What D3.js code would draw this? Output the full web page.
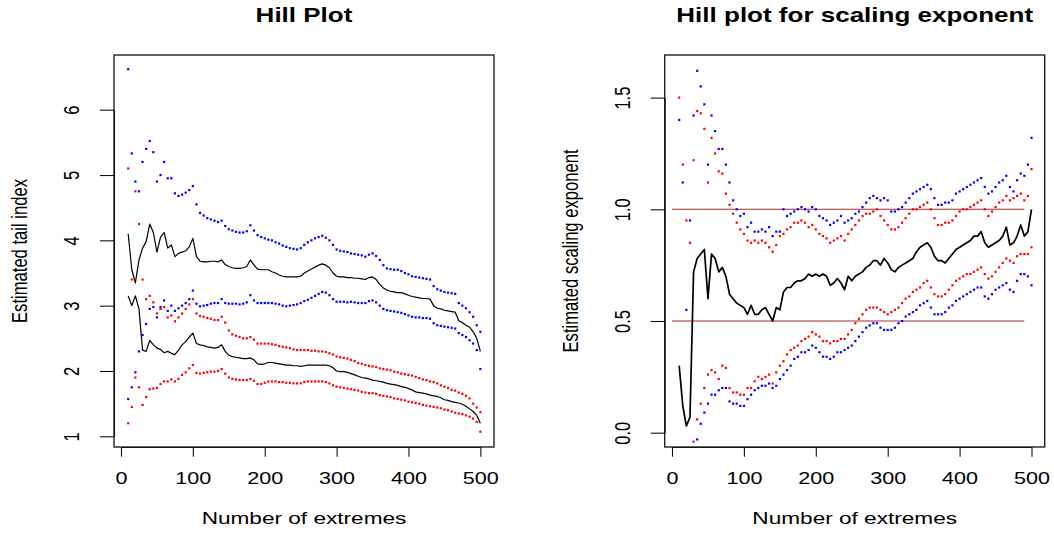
<!DOCTYPE html>
<html><head><meta charset="utf-8">
<script src="https://cdn.jsdelivr.net/npm/d3@7"></script>
<style>
body{margin:0;background:#fff}
svg{display:block}
text{font-family:"Liberation Sans",Arial,Helvetica,sans-serif;fill:#000}
</style>
</head><body>
<svg id="c" width="1054" height="534"></svg>
<script>
// Number of extremes (k) at which values were read
const extremes = d3.range(10, 501, 5);
const xTicks = [0, 100, 200, 300, 400, 500];
const yTicksHill = [1, 2, 3, 4, 5, 6];
const yTicksScale = [0, 0.5, 1.0, 1.5];
const yTickLabelsScale = ["0.0", "0.5", "1.0", "1.5"];
const refLevels = [1.0, 0.5];
const refSpan = [0, 490];

// ---- Left panel: Hill plot ----
const hillBlueUpper = [
6.62,5.33,4.9,4.75,5.2,5.4,5.52,5.35,4.9,5.0,
5.2,4.95,4.95,4.72,4.68,4.7,4.73,4.77,4.83,4.55,
4.42,4.38,4.34,4.32,4.3,4.28,4.3,4.22,4.17,4.15,
4.13,4.12,4.12,4.14,4.23,4.15,4.08,4.05,4.03,4.01,
4.0,3.97,3.95,3.92,3.9,3.88,3.87,3.86,3.88,3.93,
3.97,4.0,4.03,4.05,4.07,4.04,4.0,3.93,3.86,3.84,
3.83,3.82,3.8,3.79,3.78,3.77,3.75,3.78,3.8,3.76,
3.7,3.62,3.57,3.56,3.55,3.55,3.53,3.5,3.48,3.45,
3.44,3.43,3.42,3.41,3.4,3.3,3.25,3.23,3.21,3.2,
3.19,3.18,3.04,3.0,2.96,2.9,2.83,2.7,2.6];
const hillBlackUpper = [
4.1,3.55,3.35,3.7,3.88,3.98,4.25,4.12,3.82,4.05,
4.12,3.88,3.93,3.75,3.8,3.82,3.84,3.9,4.03,3.75,
3.68,3.67,3.67,3.68,3.68,3.67,3.7,3.63,3.6,3.58,
3.57,3.57,3.58,3.6,3.7,3.62,3.56,3.55,3.55,3.55,
3.52,3.5,3.47,3.45,3.44,3.44,3.44,3.44,3.45,3.5,
3.53,3.56,3.59,3.62,3.64,3.62,3.58,3.5,3.45,3.44,
3.44,3.43,3.43,3.42,3.42,3.41,3.4,3.43,3.44,3.4,
3.33,3.27,3.24,3.22,3.21,3.2,3.2,3.18,3.16,3.14,
3.13,3.12,3.11,3.11,3.1,3.0,2.96,2.95,2.93,2.92,
2.91,2.9,2.77,2.74,2.7,2.67,2.6,2.5,2.3];
const hillBlueLower = [
1.57,1.75,1.98,2.3,2.55,2.72,2.95,2.98,2.82,2.98,
3.08,2.92,3.0,2.92,2.96,3.0,3.04,3.1,3.23,3.03,
2.99,3.0,3.01,3.03,3.04,3.04,3.1,3.04,3.03,3.03,
3.03,3.02,3.03,3.05,3.16,3.08,3.04,3.04,3.04,3.04,
3.04,3.03,3.02,3.0,2.99,3.0,3.01,3.02,3.04,3.07,
3.09,3.12,3.15,3.18,3.21,3.2,3.16,3.1,3.06,3.06,
3.06,3.05,3.06,3.05,3.04,3.04,3.04,3.07,3.08,3.05,
3.0,2.95,2.93,2.92,2.91,2.9,2.89,2.87,2.85,2.83,
2.82,2.82,2.81,2.81,2.8,2.73,2.7,2.69,2.68,2.67,
2.66,2.65,2.58,2.55,2.52,2.47,2.42,2.32,2.03];
const hillRedUpper = [
5.1,3.4,4.75,4.25,3.4,3.1,3.15,3.05,2.88,2.95,
2.98,2.82,2.85,2.76,2.82,2.88,2.95,3.02,3.1,2.88,
2.84,2.83,2.81,2.8,2.78,2.78,2.83,2.74,2.62,2.56,
2.54,2.52,2.5,2.5,2.52,2.48,2.42,2.42,2.42,2.42,
2.41,2.4,2.38,2.37,2.36,2.35,2.33,2.32,2.32,2.32,
2.32,2.31,2.31,2.3,2.3,2.29,2.27,2.25,2.22,2.21,
2.2,2.19,2.17,2.15,2.12,2.11,2.09,2.08,2.07,2.06,
2.04,2.03,2.02,2.01,1.99,1.98,1.96,1.95,1.94,1.93,
1.91,1.89,1.87,1.86,1.84,1.83,1.81,1.78,1.76,1.74,
1.71,1.7,1.67,1.65,1.62,1.58,1.5,1.44,1.37];
const hillBlackLower = [
3.15,3.0,3.15,2.95,2.32,2.3,2.47,2.4,2.35,2.33,
2.28,2.3,2.27,2.25,2.32,2.4,2.45,2.52,2.58,2.42,
2.4,2.39,2.37,2.36,2.35,2.36,2.4,2.3,2.24,2.22,
2.21,2.2,2.19,2.19,2.2,2.17,2.11,2.1,2.11,2.13,
2.13,2.12,2.11,2.1,2.09,2.09,2.08,2.08,2.07,2.08,
2.09,2.09,2.09,2.09,2.09,2.09,2.08,2.05,2.0,1.99,
1.99,1.98,1.96,1.94,1.92,1.9,1.89,1.88,1.86,1.85,
1.84,1.83,1.81,1.8,1.79,1.78,1.76,1.75,1.73,1.71,
1.68,1.67,1.66,1.65,1.63,1.62,1.61,1.59,1.56,1.55,
1.53,1.52,1.51,1.49,1.46,1.42,1.38,1.32,1.2];
const hillRedLower = [
1.2,1.45,1.9,1.75,1.48,1.6,1.72,1.73,1.74,1.8,
1.84,1.84,1.87,1.84,1.88,1.94,1.98,2.04,2.09,1.97,
1.96,1.97,1.98,1.99,1.99,2.0,2.03,1.96,1.9,1.88,
1.87,1.86,1.86,1.86,1.88,1.85,1.8,1.8,1.82,1.84,
1.84,1.84,1.83,1.83,1.82,1.82,1.81,1.81,1.81,1.83,
1.84,1.84,1.84,1.84,1.84,1.83,1.81,1.78,1.76,1.75,
1.74,1.73,1.72,1.71,1.7,1.68,1.67,1.66,1.66,1.65,
1.63,1.62,1.61,1.6,1.58,1.57,1.56,1.55,1.53,1.52,
1.51,1.5,1.48,1.47,1.46,1.45,1.44,1.43,1.41,1.4,
1.38,1.36,1.35,1.34,1.32,1.3,1.27,1.22,1.07];

// ---- Right panel: scaling exponent ----
const scaleBlack = [
0.30,0.12,0.03,0.07,0.72,0.78,0.8,0.82,0.6,0.8,
0.78,0.72,0.74,0.7,0.62,0.6,0.58,0.57,0.56,0.53,
0.57,0.53,0.53,0.55,0.56,0.53,0.5,0.56,0.55,0.63,
0.65,0.65,0.67,0.68,0.68,0.69,0.71,0.7,0.71,0.7,
0.71,0.7,0.66,0.67,0.69,0.67,0.64,0.7,0.68,0.7,
0.71,0.72,0.74,0.75,0.77,0.77,0.75,0.78,0.76,0.73,
0.72,0.74,0.75,0.76,0.77,0.78,0.81,0.83,0.84,0.85,
0.83,0.79,0.77,0.77,0.76,0.78,0.8,0.82,0.83,0.84,
0.85,0.86,0.88,0.88,0.9,0.85,0.83,0.84,0.85,0.86,
0.88,0.92,0.84,0.85,0.88,0.93,0.88,0.9,1.0];
const scaleBlueUpper = [
1.4,1.12,0.55,0.95,1.42,1.62,1.55,1.47,1.2,1.42,
1.35,1.27,1.27,1.2,1.12,1.04,1.0,0.97,0.98,0.92,
0.94,0.9,0.9,0.91,0.9,0.92,0.88,0.9,0.9,1.0,
0.97,0.98,0.99,1.0,1.01,1.0,0.99,1.01,1.0,0.97,
0.96,0.95,0.93,0.94,0.95,0.97,0.94,0.95,0.96,0.98,
0.99,1.01,1.03,1.05,1.06,1.05,1.04,1.05,1.04,0.99,
0.99,1.0,1.01,1.03,1.05,1.07,1.08,1.09,1.1,1.11,
1.09,1.05,1.02,1.02,1.03,1.03,1.04,1.07,1.08,1.09,
1.1,1.11,1.12,1.13,1.14,1.1,1.07,1.08,1.1,1.12,
1.13,1.15,1.1,1.08,1.13,1.16,1.15,1.2,1.32];
const scaleRedUpper = [
1.5,1.2,0.95,0.85,1.22,1.44,1.43,1.36,1.12,1.32,
1.25,1.17,1.16,1.07,1.02,0.98,0.94,0.91,0.89,0.86,
0.85,0.86,0.85,0.86,0.85,0.83,0.81,0.84,0.88,0.89,
0.91,0.92,0.94,0.94,0.95,0.94,0.92,0.93,0.91,0.89,
0.88,0.87,0.85,0.86,0.87,0.88,0.86,0.89,0.91,0.93,
0.95,0.97,0.98,0.98,0.99,1.0,0.97,0.95,0.93,0.91,
0.91,0.92,0.94,0.96,0.98,1.0,1.0,1.01,1.02,1.03,
1.0,0.96,0.93,0.93,0.94,0.94,0.95,0.97,0.99,1.0,
1.0,1.01,1.02,1.03,1.04,1.0,0.97,0.99,1.01,1.03,
1.04,1.06,1.04,1.05,1.06,1.07,1.04,1.06,1.18];
const scaleRedLower = [
null,null,null,null,-0.04,0.06,0.13,0.2,0.26,0.28,
0.27,0.24,0.3,0.29,0.2,0.18,0.18,0.17,0.17,0.2,
0.2,0.23,0.25,0.24,0.25,0.26,0.22,0.27,0.3,0.32,
0.35,0.37,0.38,0.39,0.41,0.42,0.43,0.45,0.44,0.43,
0.41,0.41,0.4,0.41,0.41,0.42,0.42,0.44,0.46,0.49,
0.51,0.53,0.55,0.56,0.56,0.56,0.55,0.54,0.53,0.54,
0.55,0.56,0.58,0.6,0.61,0.63,0.64,0.65,0.67,0.68,
0.65,0.62,0.61,0.61,0.62,0.64,0.66,0.68,0.69,0.7,
0.71,0.71,0.72,0.73,0.74,0.71,0.69,0.7,0.72,0.74,
0.76,0.78,0.77,0.76,0.79,0.8,0.8,0.8,0.83];
const scaleBlueLower = [
null,null,null,null,null,-0.03,0.04,0.09,0.13,0.17,
0.17,0.19,0.2,0.2,0.14,0.13,0.13,0.12,0.12,0.15,
0.17,0.19,0.2,0.21,0.21,0.22,0.2,0.21,0.24,0.26,
0.28,0.3,0.33,0.34,0.36,0.36,0.37,0.39,0.38,0.36,
0.34,0.34,0.33,0.34,0.36,0.36,0.37,0.38,0.39,0.41,
0.43,0.45,0.47,0.48,0.49,0.49,0.47,0.46,0.46,0.46,
0.47,0.49,0.5,0.52,0.53,0.54,0.55,0.57,0.58,0.59,
0.56,0.53,0.53,0.53,0.54,0.56,0.57,0.59,0.6,0.61,
0.62,0.63,0.64,0.65,0.65,0.61,0.6,0.62,0.64,0.65,
0.66,0.67,0.64,0.63,0.68,0.71,0.71,0.7,0.66];

const svg = d3.select('#c');
const SX = 1.3; // horizontal glyph stretch seen in the reference

function panel(cfg) {
  const x = d3.scaleLinear().domain([0, 500]).range(cfg.xr);
  const y = d3.scaleLinear().domain(cfg.yd).range(cfg.yr);
  const b = cfg.box;
  const g = svg.append('g');
  const cid = 'clip-' + cfg.id;
  svg.append('defs').append('clipPath').attr('id', cid)
    .append('rect').attr('x', b[0]).attr('y', b[1]).attr('width', b[2]-b[0]).attr('height', b[3]-b[1]);
  const plot = g.append('g').attr('clip-path', `url(#${cid})`);

  // reference lines
  (cfg.refs || []).forEach(v => {
    plot.append('line').attr('x1', x(refSpan[0])).attr('x2', x(refSpan[1]))
      .attr('y1', y(v)).attr('y2', y(v)).attr('stroke', '#a52a2a').attr('stroke-width', 1.1);
  });

  // point series
  cfg.points.forEach(s => {
    const pts = extremes.map((k, i) => [k, s.values[i]]).filter(d => d[1] != null);
    plot.append('g').selectAll('rect').data(pts).join('rect')
      .attr('x', d => x(d[0]) - 1.1).attr('y', d => y(d[1]) - 1.1)
      .attr('width', 2.2).attr('height', 2.2).attr('fill', s.color);
  });

  // line series
  const line = d3.line().defined(d => d[1] != null).x(d => x(d[0])).y(d => y(d[1]));
  cfg.lines.forEach(s => {
    plot.append('path').datum(extremes.map((k, i) => [k, s[i]]))
      .attr('d', line).attr('fill', 'none').attr('stroke', '#000')
      .attr('stroke-width', cfg.lw).attr('stroke-linejoin', 'round');
  });

  // box
  g.append('rect').attr('x', b[0]).attr('y', b[1]).attr('width', b[2]-b[0]).attr('height', b[3]-b[1])
    .attr('fill', 'none').attr('stroke', '#222').attr('stroke-width', 1.4);

  // x axis
  const xa = g.append('g').attr('transform', `translate(0,${b[3]})`)
    .call(d3.axisBottom(x).tickValues(xTicks).tickSize(9.7).tickSizeOuter(0).tickFormat(d3.format('d')));
  xa.selectAll('text').attr('y', null).attr('dy', null).attr('font-size', 16.6)
    .attr('transform', `translate(0,37) scale(${SX},1)`).attr('font-family', null);
  // y axis
  const ya = g.append('g').attr('transform', `translate(${b[0]},0)`)
    .call(d3.axisLeft(y).tickValues(cfg.yTicks).tickSize(14).tickSizeOuter(0)
      .tickFormat((d, i) => cfg.yLabels ? cfg.yLabels[i] : d3.format('d')(d)));
  ya.selectAll('text').attr('x', null).attr('dy', null).attr('text-anchor', 'middle').attr('font-size', 16.5)
    .attr('transform', `translate(-35,0) scale(${SX},1) rotate(-90)`).attr('font-family', null);
  [xa, ya].forEach(a => {
    a.attr('font-family', null);
    a.selectAll('line').attr('stroke', '#111').attr('stroke-width', 1.1);
    a.selectAll('path').attr('stroke', '#111').attr('stroke-width', 1.1);
  });

  const cx = (b[0] + b[2]) / 2, cy = (b[1] + b[3]) / 2;
  g.append('text').attr('text-anchor', 'middle').attr('font-weight', 'bold').attr('font-size', 20)
    .attr('transform', `translate(${cx},21.5) scale(${SX},1)`).text(cfg.title);
  g.append('text').attr('text-anchor', 'middle').attr('font-size', 17.4)
    .attr('transform', `translate(${cx},524) scale(${SX},1)`).text('Number of extremes');
  g.append('text').attr('text-anchor', 'middle').attr('font-size', 16.6)
    .attr('transform', `translate(${b[0] - 86.7},${cy}) scale(${SX},1) rotate(-90)`).text(cfg.ylab);
}

panel({
  id: 'hill', xr: [121, 480.35], yd: [1, 6], yr: [436.3, 109.7], box: [114, 55, 494, 447],
  yTicks: yTicksHill, title: 'Hill Plot', ylab: 'Estimated tail index', lw: 1.2,
  points: [
    {values: hillBlueUpper, color: '#0000ff'},
    {values: hillBlueLower, color: '#0000ff'},
    {values: hillRedUpper, color: '#ff0000'},
    {values: hillRedLower, color: '#ff0000'}
  ],
  lines: [hillBlackUpper, hillBlackLower]
});

panel({
  id: 'scale', xr: [672, 1031.5], yd: [0, 1.5], yr: [432.7, 97.6], box: [664.7, 55, 1044.7, 447],
  yTicks: yTicksScale, yLabels: yTickLabelsScale, title: 'Hill plot for scaling exponent',
  ylab: 'Estimated scaling exponent', lw: 1.7, refs: refLevels,
  points: [
    {values: scaleRedUpper, color: '#ff0000'},
    {values: scaleBlueUpper, color: '#0000ff'},
    {values: scaleRedLower, color: '#ff0000'},
    {values: scaleBlueLower, color: '#0000ff'}
  ],
  lines: [scaleBlack]
});
</script>
</body></html>
